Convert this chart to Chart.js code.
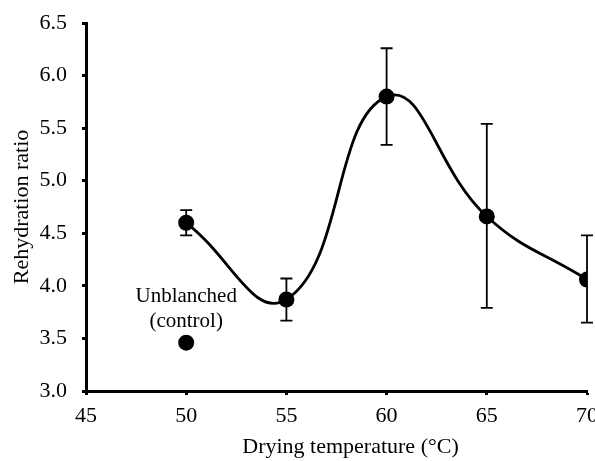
<!DOCTYPE html>
<html>
<head>
<meta charset="utf-8">
<script src="https://cdn.jsdelivr.net/npm/chart.js@4"></script>
<style>
  html, body { margin: 0; padding: 0; background: #fff; }
  #wrap { width: 595px; height: 461px; }
</style>
</head>
<body>
<div id="wrap"><canvas id="c" width="595" height="461"></canvas></div>
<script>
// Data
const temperatures = [50, 55, 60, 65, 70];
const rehydration = [4.60, 3.87, 5.80, 4.66, 4.06];
const errLow = [4.48, 3.67, 5.34, 3.79, 3.65];
const errHigh = [4.72, 4.07, 6.26, 5.54, 4.48];
const controlTemp = [50];
const controlValue = [3.46];
const controlLabel = ['Unblanched', '(control)'];
const yTicks = [3.0, 3.5, 4.0, 4.5, 5.0, 5.5, 6.0, 6.5];
const xTicks = [45, 50, 55, 60, 65, 70];
const xTitle = 'Drying temperature (°C)';
const yTitle = 'Rehydration ratio';

const FONT = '"Liberation Serif", "Times New Roman", serif';

const errorBars = {
  id: 'errorBars',
  afterDatasetsDraw(chart) {
    const { ctx, scales: { x, y } } = chart;
    ctx.save();
    ctx.strokeStyle = '#000';
    ctx.lineWidth = 1.8;
    temperatures.forEach((t, i) => {
      const px = x.getPixelForValue(t);
      const pl = y.getPixelForValue(errLow[i]);
      const ph = y.getPixelForValue(errHigh[i]);
      ctx.beginPath();
      ctx.moveTo(px, pl); ctx.lineTo(px, ph);
      ctx.moveTo(px - 6, pl); ctx.lineTo(px + 6, pl);
      ctx.moveTo(px - 6, ph); ctx.lineTo(px + 6, ph);
      ctx.stroke();
    });
    ctx.restore();
  }
};

const textLabels = {
  id: 'textLabels',
  afterDraw(chart) {
    const { ctx, chartArea, scales: { x, y } } = chart;
    ctx.save();
    ctx.fillStyle = '#000';
    ctx.textAlign = 'center';
    ctx.textBaseline = 'middle';
    ctx.font = '21px ' + FONT;
    const px = x.getPixelForValue(controlTemp[0]);
    const py = y.getPixelForValue(controlValue[0]);
    ctx.fillText(controlLabel[0], px, py - 46);
    ctx.fillText(controlLabel[1], px, py - 21);
    // x axis title (centred over the full, uncropped axis)
    ctx.font = '22px ' + FONT;
    ctx.fillText(xTitle, (chartArea.left + chartArea.right) / 2 + 14, 447);
    ctx.restore();
  }
};

new Chart(document.getElementById('c'), {
  type: 'scatter',
  data: {
    datasets: [
      {
        data: temperatures.map((t, i) => ({ x: t, y: rehydration[i] })),
        showLine: true,
        tension: 0.45,
        borderColor: '#000',
        borderWidth: 2.8,
        pointRadius: 8,
        pointHoverRadius: 8,
        pointBackgroundColor: '#000',
        pointBorderColor: '#000',
        pointBorderWidth: 0
      },
      {
        data: controlTemp.map((t, i) => ({ x: t, y: controlValue[i] })),
        showLine: false,
        pointRadius: 8,
        pointHoverRadius: 8,
        pointBackgroundColor: '#000',
        pointBorderColor: '#000',
        pointBorderWidth: 0
      }
    ]
  },
  options: {
    responsive: false,
    animation: false,
    events: [],
    layout: { padding: { top: 23, right: 8, left: 0, bottom: 0 } },
    plugins: { legend: { display: false }, tooltip: { enabled: false } },
    scales: {
      x: {
        type: 'linear',
        min: 45, max: 70,
        afterBuildTicks(s) { s.ticks = xTicks.map(v => ({ value: v })); },
        afterFit(s) { s.height = 70; s.paddingLeft = 0; s.paddingRight = 0; },
        border: { color: '#000', width: 3 },
        grid: { drawOnChartArea: false, color: '#000', tickLength: 4, tickWidth: 3 },
        ticks: { color: '#000', font: { family: FONT, size: 22 }, padding: 8, maxRotation: 0, autoSkip: false, callback: v => String(v) },
        title: { display: false }
      },
      y: {
        type: 'linear',
        min: 3, max: 6.5,
        afterBuildTicks(s) { s.ticks = yTicks.map(v => ({ value: v })); },
        afterFit(s) { s.width = 86; s.paddingTop = 0; s.paddingBottom = 0; },
        border: { color: '#000', width: 3 },
        grid: { drawOnChartArea: false, color: '#000', tickLength: 4, tickWidth: 3 },
        ticks: { color: '#000', font: { family: FONT, size: 22 }, padding: 15, callback: v => Number(v).toFixed(1) },
        title: { display: true, text: yTitle, color: '#000', font: { family: FONT, size: 22 }, padding: { top: 9, bottom: 0 } }
      }
    }
  },
  plugins: [errorBars, textLabels]
});
</script>
</body>
</html>
